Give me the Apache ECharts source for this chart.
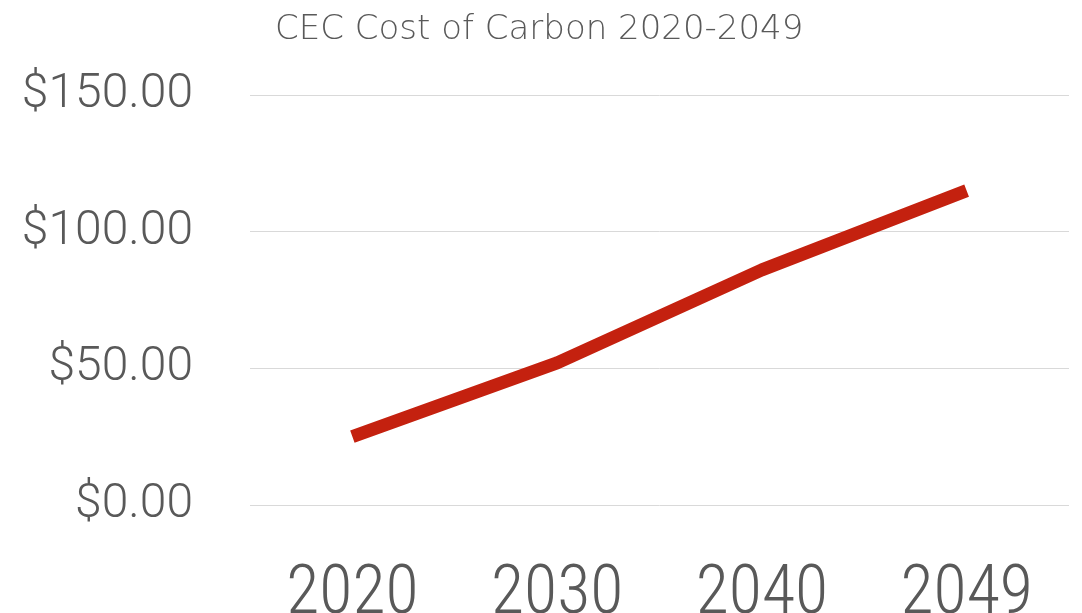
<!DOCTYPE html>
<html>
<head>
<meta charset="utf-8">
<script src="https://cdn.jsdelivr.net/npm/echarts@6/dist/echarts.min.js"></script>
<style>
  html, body { margin: 0; padding: 0; background: #fff; }
  #chart { width: 1082px; height: 613px; }
</style>
</head>
<body>
<div id="chart"></div>
<script>
// Cost of carbon, $ per ton
const years = ['2020', '2030', '2040', '2049'];
const costValues = [25, 52, 86, 115];
const yTicks = { min: 0, max: 150, interval: 50 };
const titleText = 'CEC Cost of Carbon 2020-2049';

const chart = echarts.init(document.getElementById('chart'), null, { renderer: 'canvas' });
chart.setOption({
  animation: false,
  backgroundColor: '#ffffff',
  title: {
    text: titleText,
    left: 270,
    top: 8,
    textStyle: {
      fontFamily: '"DejaVu Sans"',
      fontWeight: 200,
      fontSize: 34,
      color: '#595959'
    }
  },
  grid: {
    left: 250, right: 13, top: 95, bottom: 108,
    containLabel: false,
    outerBoundsMode: 'none'
  },
  xAxis: {
    type: 'category',
    data: years,
    boundaryGap: true,
    axisLine: { show: false },
    axisTick: { show: false },
    axisLabel: {
      margin: 57,
      fontFamily: '"Liberation Sans Narrow", "Roboto Condensed", Lato',
      fontWeight: 300,
      fontSize: 68,
      color: '#595959'
    }
  },
  yAxis: {
    type: 'value',
    min: yTicks.min,
    max: yTicks.max,
    interval: yTicks.interval,
    axisLine: { show: false },
    axisTick: { show: false },
    splitLine: { lineStyle: { color: '#d9d9d9', width: 1 } },
    axisLabel: {
      margin: 57,
      fontFamily: 'Roboto',
      fontWeight: 300,
      fontSize: 48,
      color: '#595959',
      formatter: v => '$' + v.toFixed(2)
    }
  },
  series: [{
    type: 'line',
    data: costValues,
    showSymbol: false,
    symbol: 'none',
    lineStyle: { color: '#c4210f', width: 13, cap: 'butt', join: 'round' }
  }]
});
</script>
</body>
</html>
